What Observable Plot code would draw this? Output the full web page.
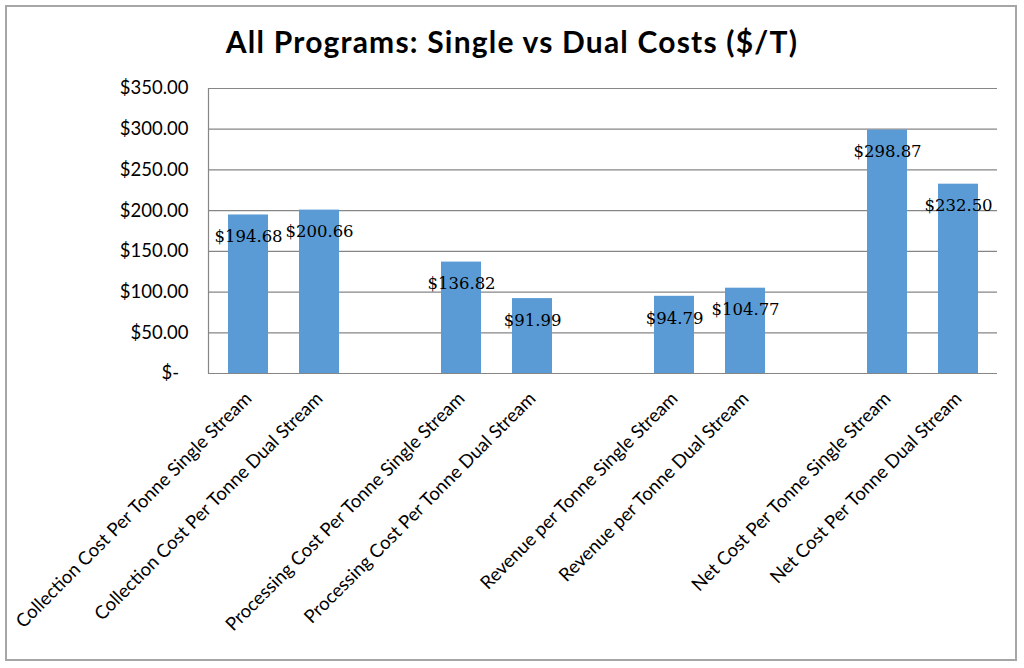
<!DOCTYPE html>
<html><head><meta charset="utf-8">
<script src="https://cdn.jsdelivr.net/npm/d3@7"></script>
<script src="https://cdn.jsdelivr.net/npm/@observablehq/plot@0.6"></script>
<style>
body{margin:0;background:#fff;}
#wrap{position:relative;width:1024px;height:668px;overflow:hidden;background:#fff;}
#frame{position:absolute;left:5px;top:5px;width:1012px;height:656px;border:2px solid #a6a6a6;box-sizing:border-box;pointer-events:none;}
#title{height:70px;box-sizing:border-box;padding-top:24px;text-align:center;font:bold 30px Lato, sans-serif;letter-spacing:1.2px;line-height:34px;color:#000;}
#chart svg{display:block;}
</style></head><body>
<div id="wrap"><div id="frame"></div><div id="title">All Programs: Single vs Dual Costs ($/T)</div><div id="chart"></div></div>
<script>
const categories = [
  "Collection Cost Per Tonne Single Stream",
  "Collection Cost Per Tonne Dual Stream",
  "Processing Cost Per Tonne Single Stream",
  "Processing Cost Per Tonne Dual Stream",
  "Revenue per Tonne Single Stream",
  "Revenue per Tonne Dual Stream",
  "Net Cost Per Tonne Single Stream",
  "Net Cost Per Tonne Dual Stream"
];
const values = [194.68, 200.66, 136.82, 91.99, 94.79, 104.77, 298.87, 232.50];
const valueLabels = ["$194.68", "$200.66", "$136.82", "$91.99", "$94.79", "$104.77", "$298.87", "$232.50"];
// empty category slots between the groups
const slots = [
  categories[0], categories[1], " ",
  categories[2], categories[3], "  ",
  categories[4], categories[5], "   ",
  categories[6], categories[7]
];
const yTicks = [0, 50, 100, 150, 200, 250, 300, 350];
const yTickLabels = ["$-\u00a0\u00a0", "$50.00", "$100.00", "$150.00", "$200.00", "$250.00", "$300.00", "$350.00"];

const data = categories.map((c, i) => ({category: c, value: values[i], label: valueLabels[i]}));

const chart = Plot.plot({
  width: 1024,
  height: 598,
  marginTop: 18,
  marginBottom: 295,
  marginLeft: 208,
  marginRight: 27,
  style: {fontFamily: "Lato, sans-serif", fontSize: "16px", color: "#000", background: "transparent"},
  x: {domain: slots, paddingInner: 0.44, paddingOuter: 0.2, label: null},
  y: {domain: [0, 350], label: null},
  marks: [
    Plot.gridY(yTicks, {stroke: "#868686", strokeOpacity: 1, strokeWidth: 1.2}),
    Plot.frame({anchor: "left", stroke: "#868686", strokeWidth: 1.2}),
    Plot.barY(data, {x: "category", y: "value", fill: "#5b9bd5"}),
    Plot.ruleY([0], {stroke: "#868686", strokeWidth: 1.2}),
    Plot.text(data, {x: "category", y: "value", text: "label", dy: 22, fill: "#000",
      fontFamily: "DejaVu Serif, serif", fontSize: 16.5}),
    Plot.axisY(yTicks, {tickSize: 0, tickPadding: 20, fontSize: 18.5, fill: "#000",
      tickFormat: d => yTickLabels[yTicks.indexOf(d)], label: null}),
    Plot.axisX({tickRotate: -45, tickSize: 0, tickPadding: 22, fontSize: 18.5, fill: "#000",
      tickFormat: d => d.trim(), label: null})
  ]
});
document.getElementById("chart").appendChild(chart);
</script>
</body></html>
